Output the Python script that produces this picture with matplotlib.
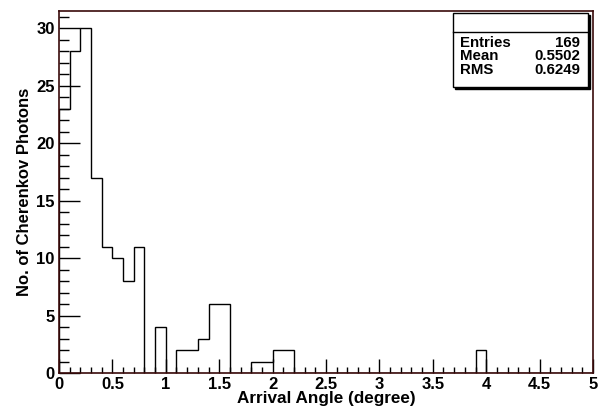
"""ROOT-style histogram of Cherenkov photon arrival angles."""

import matplotlib

matplotlib.use("Agg")
import matplotlib.pyplot as plt
import numpy as np
from matplotlib.patches import Rectangle
from matplotlib.ticker import MultipleLocator

plt.rcParams["font.family"] = ["Liberation Sans", "DejaVu Sans"]
plt.rcParams["font.weight"] = "bold"

# ---- Data (bin width 0.1 deg) -----------------------------------------
bin_edges = np.round(np.arange(0, 5.01, 0.1), 2)
counts = [23, 28, 30, 17, 11, 10, 8, 11, 0, 4,
          0, 2, 2, 3, 6, 6, 0, 0, 1, 1,
          2, 2, 0, 0, 0, 0, 0, 0, 0, 0,
          0, 0, 0, 0, 0, 0, 0, 0, 0, 2,
          0, 0, 0, 0, 0, 0, 0, 0, 0, 0]
stat_names = ["Entries", "Mean", "RMS"]
stat_values = ["169", "0.5502", "0.6249"]

W, H = 600, 412
fig = plt.figure(figsize=(W / 100, H / 100), dpi=100)
ax = fig.add_axes([59 / W, (H - 373) / H, 534 / W, 362 / H])

ax.stairs(counts, bin_edges, color="black", lw=1.0)

ax.set_xlim(0, 5)
ax.set_ylim(0, 31.5)
ax.xaxis.set_major_locator(MultipleLocator(0.5))
ax.xaxis.set_minor_locator(MultipleLocator(0.1))
ax.yaxis.set_major_locator(MultipleLocator(5))
ax.yaxis.set_minor_locator(MultipleLocator(1))
ax.set_xticks(np.arange(0, 5.01, 0.5))
ax.set_xticklabels(["0", "0.5", "1", "1.5", "2", "2.5", "3", "3.5", "4", "4.5", "5"])
ax.tick_params(which="both", direction="in", top=False, right=False,
               labelsize=12, width=1)
ax.tick_params(axis="x", which="major", length=10, pad=3)
ax.tick_params(axis="x", which="minor", length=4.5)
ax.tick_params(axis="y", which="major", length=15, pad=3)
ax.tick_params(axis="y", which="minor", length=7.5)
for lab in ax.get_xticklabels() + ax.get_yticklabels():
    lab.set_fontweight("bold")
for sp in ax.spines.values():
    sp.set_color("#3a0a0a")
    sp.set_linewidth(1.2)

ax.set_xlabel("Arrival Angle (degree)", fontsize=12.3, fontweight="bold",
              labelpad=-1)
ax.set_ylabel("No. of Cherenkov Photons", fontsize=12, fontweight="bold",
              labelpad=3)

# ---- Stats box (pixel coords -> figure fraction) ----------------------
def fx(px):
    return px / W


def fy(py):
    return (H - py) / H


bx0, bx1, by0, by1 = 453, 588, 13, 87
fig.patches.append(Rectangle((fx(bx0 + 2), fy(by1 + 2)), fx(bx1 - bx0),
                             (by1 - by0) / H, transform=fig.transFigure,
                             facecolor="black", edgecolor="black", zorder=5))
fig.patches.append(Rectangle((fx(bx0), fy(by1)), fx(bx1 - bx0),
                             (by1 - by0) / H, transform=fig.transFigure,
                             facecolor="white", edgecolor="black", lw=1,
                             zorder=6))
fig.lines.append(plt.Line2D([fx(bx0), fx(bx1)], [fy(32), fy(32)],
                            transform=fig.transFigure, color="black", lw=1,
                            zorder=7))
for i, (name, val) in enumerate(zip(stat_names, stat_values)):
    y = fy(43 + i * 13.3)
    fig.text(fx(460), y, name, ha="left", va="center", fontsize=10.8,
             fontweight="bold", zorder=8)
    fig.text(fx(580), y, val, ha="right", va="center", fontsize=10.8,
             fontweight="bold", zorder=8)

fig.savefig("out.png", dpi=100)
